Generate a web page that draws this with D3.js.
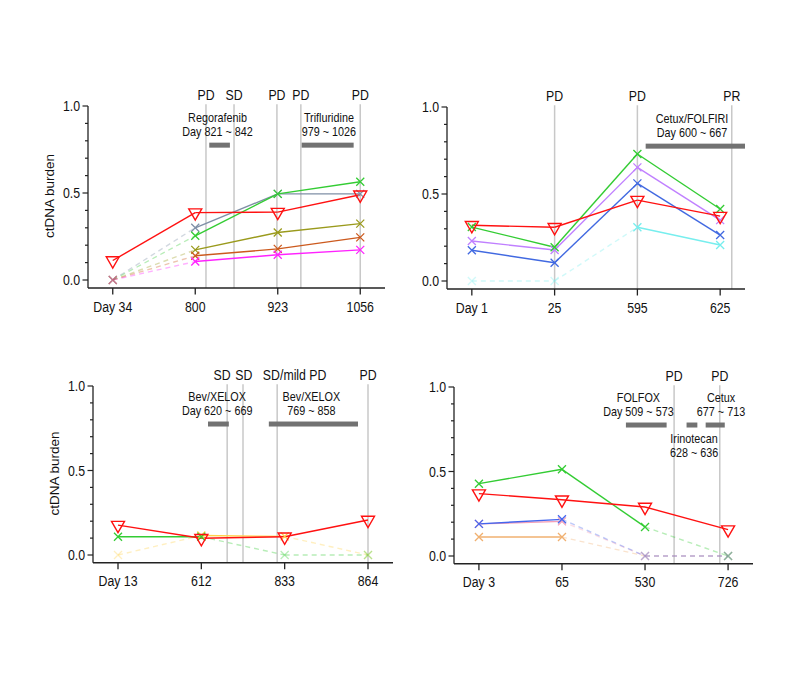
<!DOCTYPE html>
<html><head><meta charset="utf-8">
<script src="https://cdn.jsdelivr.net/npm/d3@7"></script>
<style>
body{margin:0;background:#fff}
text{font-family:"Liberation Sans",Arial,Helvetica,sans-serif;fill:#111}
</style>
</head><body>
<svg id="chart" width="812" height="675"></svg>
<script>
// ---------- data ----------
const yTickValues = [0,0.1,0.2,0.3,0.4,0.5,0.6,0.7,0.8,0.9,1.0];
const yMajorTicks = [0,0.5,1.0];
const yAxisTitle = "ctDNA burden";

const p1Categories = ["Day 34","800","923","1056"];
const p1Series = [
  {color:"#7f8fa6", marker:"x",   values:[0,0.30,0.495,0.495]},
  {color:"#33cc33", marker:"x",   values:[0,0.254,0.495,0.565]},
  {color:"#9a9a1c", marker:"x",   values:[0,0.173,0.273,0.324]},
  {color:"#cc5a1e", marker:"x",   values:[0,0.139,0.179,0.245]},
  {color:"#ff22ff", marker:"x",   values:[0,0.106,0.145,0.173]},
  {color:"#ff1111", marker:"tri", values:[0.112,0.387,0.39,0.49]}
];
const p1Events = [
  {at:1.13,label:"PD"},{at:1.47,label:"SD"},{at:1.99,label:"PD"},{at:2.28,label:"PD"},{at:3.0,label:"PD"}
];
const p1Treatments = [
  {from:1.17,to:1.42,textAt:1.27,lines:["Regorafenib","Day 821 ~ 842"]},
  {from:2.29,to:2.92,textAt:2.62,lines:["Trifluridine","979 ~ 1026"]}
];

const p2Categories = ["Day 1","25","595","625"];
const p2Series = [
  {color:"#77eeee", marker:"x",   values:[0,0,0.309,0.207]},
  {color:"#4169e1", marker:"x",   values:[0.177,0.105,0.561,0.264]},
  {color:"#c080ff", marker:"x",   values:[0.23,0.178,0.653,0.35]},
  {color:"#33cc33", marker:"x",   values:[0.31,0.194,0.73,0.414]},
  {color:"#ff1111", marker:"tri", values:[0.32,0.309,0.465,0.373]}
];
const p2Events = [{at:1,label:"PD"},{at:2,label:"PD"},{at:3.14,label:"PR"}];
const p2Treatments = [
  {from:2.10,to:3.30,textAt:2.66,lines:["Cetux/FOLFIRI","Day 600 ~ 667"]}
];

const p3Categories = ["Day 13","612","833","864"];
const p3Series = [
  {color:"#ffd24a", marker:"x",   values:[0,0.115,0.11,0]},
  {color:"#33cc33", marker:"x",   values:[0.108,0.108,0,0]},
  {color:"#ff1111", marker:"tri", values:[0.177,0.099,0.108,0.207]}
];
const p3Events = [
  {at:1.31,label:"SD",labelAt:1.25},{at:1.50,label:"SD",labelAt:1.51},
  {at:1.91,label:"SD/mild PD",labelAt:2.12},{at:3.0,label:"PD"}
];
const p3Treatments = [
  {from:1.08,to:1.33,textAt:1.19,lines:["Bev/XELOX","Day 620 ~ 669"]},
  {from:1.81,to:2.88,textAt:2.32,lines:["Bev/XELOX","769 ~ 858"]}
];

const p4Categories = ["Day 3","65","530","726"];
const p4Series = [
  {color:"#f0b070", marker:"x",   values:[0.112,0.112,0,0]},
  {color:"#f4a0b8", marker:"x",   values:[0.19,0.205,0,0]},
  {color:"#4466ee", marker:"x",   values:[0.19,0.217,0,0]},
  {color:"#33cc33", marker:"x",   values:[0.428,0.513,0.172,0]},
  {color:"#ff1111", marker:"tri", values:[0.369,0.333,0.29,0.156]}
];
const p4Events = [{at:2.35,label:"PD"},{at:2.90,label:"PD"}];
const p4Treatments = [
  {from:1.77,to:2.26,textAt:1.92,lines:["FOLFOX","Day 509 ~ 573"]},
  {from:2.50,to:2.63,textAt:2.59,lines:["Irinotecan","628 ~ 636"],below:true},
  {from:2.73,to:2.96,textAt:2.915,lines:["Cetux","677 ~ 713"]}
];

// ---------- layout ----------
const frames = [
  {x0:88,  x1:385, yTop:106, yZero:280, yLabel:true},
  {x0:447, x1:745, yTop:107, yZero:281, yLabel:false},
  {x0:93,  x1:393, yTop:386, yZero:555, yLabel:true},
  {x0:454, x1:753, yTop:387, yZero:556, yLabel:false}
];
const panels = [
  {cats:p1Categories, series:p1Series, events:p1Events, treats:p1Treatments},
  {cats:p2Categories, series:p2Series, events:p2Events, treats:p2Treatments},
  {cats:p3Categories, series:p3Series, events:p3Events, treats:p3Treatments},
  {cats:p4Categories, series:p4Series, events:p4Events, treats:p4Treatments}
];

const svg = d3.select("#chart");

function ctext(g, x, y, str, size, anchor, sq){
  return g.append("text")
    .attr("transform", `translate(${x},${y}) scale(${sq},1)`)
    .attr("text-anchor", anchor || "middle")
    .style("font-size", size + "px")
    .text(str);
}

function xMarker(r){ return `M${-r},${-r}L${r},${r}M${-r},${r}L${r},${-r}`; }
function triMarker(s){ const h = s*Math.sqrt(3)/2; return `M${-s/2},${-h/3}L${s/2},${-h/3}L0,${2*h/3}Z`; }

const BIG = 14.5, BIGSQ = 0.85, SMALL = 12, SMALLSQ = 0.9;

panels.forEach((p, k) => {
  const f = frames[k];
  const g = svg.append("g");
  const x = d3.scalePoint().domain(p.cats).range([f.x0, f.x1]).padding(0.3);
  const xi = d3.scaleLinear().domain([0, p.cats.length-1]).range([x(p.cats[0]), x(p.cats[p.cats.length-1])]);
  const y = d3.scaleLinear().domain([0,1]).range([f.yZero, f.yTop]);
  const yAxisPos = y(-0.046);

  // event lines
  g.selectAll(".ev").data(p.events).join("line")
    .attr("x1", d => xi(d.at)).attr("x2", d => xi(d.at))
    .attr("y1", y(1.01)).attr("y2", yAxisPos)
    .attr("stroke", "#c8c8c8").attr("stroke-width", 1.5);
  p.events.forEach(d => {
    ctext(g, xi(d.labelAt != null ? d.labelAt : d.at), y(1) - 6, d.label, BIG, "middle", BIGSQ);
  });

  // treatments
  const barY = y(0.775);
  g.selectAll(".tr").data(p.treats).join("rect")
    .attr("x", d => xi(d.from)).attr("width", d => xi(d.to) - xi(d.from))
    .attr("y", barY - 2.5).attr("height", 5)
    .attr("fill", "#727272");
  p.treats.forEach(d => {
    const tx = xi(d.textAt);
    if (d.below) {
      ctext(g, tx, barY + 18, d.lines[0], SMALL, "middle", SMALLSQ);
      ctext(g, tx, barY + 32, d.lines[1], SMALL, "middle", SMALLSQ);
    } else {
      ctext(g, tx, barY - 23, d.lines[0], SMALL, "middle", SMALLSQ);
      ctext(g, tx, barY - 9, d.lines[1], SMALL, "middle", SMALLSQ);
    }
  });

  // axes
  g.append("line").attr("x1", f.x0).attr("x2", f.x0).attr("y1", y(1)).attr("y2", yAxisPos)
    .attr("stroke", "#222").attr("stroke-width", 1.3);
  g.append("line").attr("x1", f.x0).attr("x2", f.x1).attr("y1", yAxisPos).attr("y2", yAxisPos)
    .attr("stroke", "#222").attr("stroke-width", 1.3);
  yTickValues.forEach(v => {
    const major = yMajorTicks.some(m => Math.abs(m - v) < 1e-9);
    g.append("line").attr("x1", f.x0 - (major ? 5.5 : 3)).attr("x2", f.x0)
      .attr("y1", y(v)).attr("y2", y(v)).attr("stroke", "#222").attr("stroke-width", 1.2);
  });
  yMajorTicks.forEach(v => {
    ctext(g, f.x0 - 8, y(v) + 5, d3.format(".1f")(v), BIG, "end", BIGSQ);
  });
  p.cats.forEach(c => {
    g.append("line").attr("x1", x(c)).attr("x2", x(c)).attr("y1", yAxisPos).attr("y2", yAxisPos + 6.5)
      .attr("stroke", "#222").attr("stroke-width", 1.3);
    ctext(g, x(c), yAxisPos + 23.5, c, BIG, "middle", BIGSQ);
  });
  if (f.yLabel) {
    g.append("text")
      .attr("transform", `translate(${f.x0 - 34},${(f.yTop + f.yZero)/2 + 3}) rotate(-90)`)
      .attr("text-anchor", "middle")
      .style("font-size", "13.5px")
      .text(yAxisTitle);
  }

  // series lines
  const line = d3.line().x(d => xi(d[0])).y(d => y(d[1]));
  p.series.forEach(s => {
    for (let i = 0; i < s.values.length - 1; i++) {
      const a = s.values[i], b = s.values[i+1];
      const faded = (a === 0 || b === 0);
      g.append("path").attr("d", line([[i, a], [i+1, b]]))
        .attr("fill", "none").attr("stroke", s.color)
        .attr("stroke-width", 1.4)
        .attr("stroke-dasharray", faded ? "5,4" : null)
        .attr("opacity", faded ? 0.35 : 1);
    }
  });
  // markers
  p.series.forEach(s => {
    s.values.forEach((v, i) => {
      const faded = v === 0;
      g.append("path")
        .attr("transform", `translate(${xi(i)},${y(v)})`)
        .attr("d", s.marker === "tri" ? triMarker(13) : xMarker(4))
        .attr("fill", "none").attr("stroke", s.color)
        .attr("stroke-width", s.marker === "tri" ? 1.4 : 1.3)
        .attr("opacity", faded ? 0.35 : 1);
    });
  });
});
</script>
</body></html>
